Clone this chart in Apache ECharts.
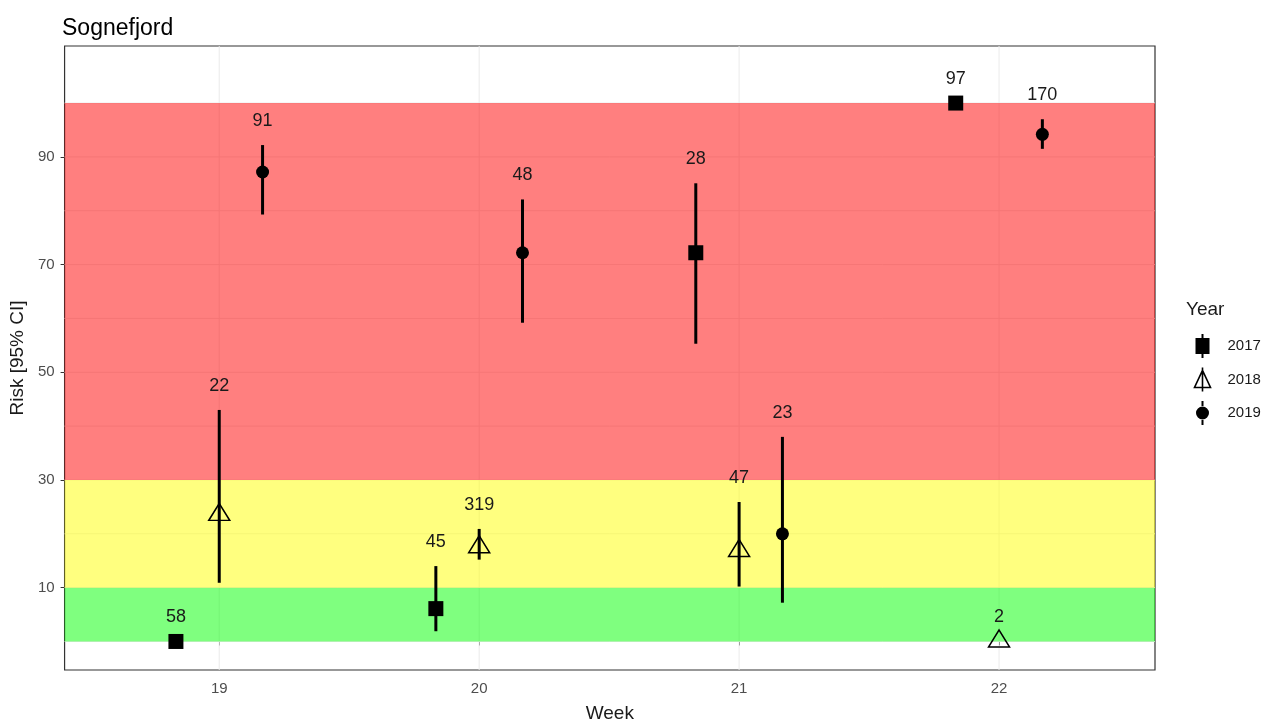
<!DOCTYPE html>
<html>
<head>
<meta charset="utf-8">
<script src="https://cdn.jsdelivr.net/npm/echarts@6/dist/echarts.min.js"></script>
<style>
html,body{margin:0;padding:0;background:#fff;}
#chart{width:1266px;height:728px;}
</style>
</head>
<body>
<div id="chart"></div>
<script>
// ---- data ----
const weeks = [19, 20, 21, 22];
const years = ['2017', '2018', '2019'];
const risk2017 = [0, 6.1, 72.2, 100];
const lo2017 = [0, 1.9, 55.3, 100];
const hi2017 = [0, 14.0, 85.1, 100];
const n2017 = [58, 45, 28, 97];
const risk2018 = [23.5, 17.5, 16.8, 0];
const lo2018 = [10.9, 15.2, 10.2, 0];
const hi2018 = [43.0, 20.9, 25.9, 0];
const n2018 = [22, 319, 47, 2];
const risk2019 = [87.2, 72.2, 20.0, 94.2];
const lo2019 = [79.3, 59.2, 7.2, 91.5];
const hi2019 = [92.2, 82.1, 38.0, 97.0];
const n2019 = [91, 48, 23, 170];
const bandLow = [0, 10, 30];
const bandHigh = [10, 30, 100];
const yTicks = [10, 30, 50, 70, 90];
const yGrid = [0, 10, 20, 30, 40, 50, 60, 70, 80, 90, 100];

// ---- styling ----
const FONT = '"Liberation Sans", Arial, sans-serif';
const dodge = 1 / 6;
const bandColors = ['rgba(0,255,0,0.5)', 'rgba(255,255,0,0.5)', 'rgba(255,0,0,0.5)'];
const yearData = [
  {risk: risk2017, lo: lo2017, hi: hi2017, n: n2017, off: -dodge},
  {risk: risk2018, lo: lo2018, hi: hi2018, n: n2018, off: 0},
  {risk: risk2019, lo: lo2019, hi: hi2019, n: n2019, off: dodge}
];
const symbols = [
  {symbol: 'rect', symbolSize: 15, itemStyle: {color: '#000', opacity: 1}},
  {symbol: 'triangle', symbolSize: [21, 17], symbolOffset: [0, -3],
   itemStyle: {color: 'none', borderColor: '#000', borderWidth: 1.5, opacity: 1}},
  {symbol: 'circle', symbolSize: 13, itemStyle: {color: '#000', opacity: 1}}
];
const legendIcons = [
  'path://M7,0L9,0L9,4L15,4L15,20L9,20L9,24L7,24L7,20L1,20L1,4L7,4Z',
  'path://M8,0L8,24M0,20L16,20L8,3Z',
  'path://M7,0L9,0L9,5L7,5Z M7,19L9,19L9,24L7,24Z M1.5,12A6.5,6.5 0 1 1 14.5,12A6.5,6.5 0 1 1 1.5,12Z'
];

const series = [];
// grid lines
series.push({
  type: 'custom', silent: true, z: 1,
  data: yGrid.map(v => [weeks[0], v]),
  renderItem: function (params, api) {
    const cs = params.coordSys;
    const y = api.coord([weeks[0], api.value(1)])[1];
    return {type: 'line', shape: {x1: cs.x, y1: y, x2: cs.x + cs.width, y2: y},
      style: {stroke: '#EBEBEB', lineWidth: 1}};
  }
});
series.push({
  type: 'custom', silent: true, z: 1,
  data: weeks.map(w => [w, 50]),
  renderItem: function (params, api) {
    const cs = params.coordSys;
    const x = api.coord([api.value(0), 50])[0];
    return {type: 'line', shape: {x1: x, y1: cs.y, x2: x, y2: cs.y + cs.height},
      style: {stroke: '#EBEBEB', lineWidth: 1}};
  }
});
// risk bands
series.push({
  type: 'custom', silent: true, z: 2,
  data: bandLow.map((lo, i) => [lo, bandHigh[i], i]),
  renderItem: function (params, api) {
    const cs = params.coordSys;
    const y1 = api.coord([weeks[0], api.value(1)])[1];
    const y0 = api.coord([weeks[0], api.value(0)])[1];
    return {type: 'rect', shape: {x: cs.x, y: y1, width: cs.width, height: y0 - y1},
      style: {fill: bandColors[api.value(2)]}};
  }
});
// error bars + labels, and points
years.forEach((yr, k) => {
  const d = yearData[k];
  series.push({
    name: yr, type: 'custom', z: 3,
    data: weeks.map((w, i) => [w + d.off, d.lo[i], d.hi[i], d.n[i]]),
    encode: {x: 0, y: [1, 2]},
    renderItem: function (params, api) {
      const x = api.value(0);
      const p0 = api.coord([x, api.value(1)]);
      const p1 = api.coord([x, api.value(2)]);
      const children = [];
      if (Math.abs(p0[1] - p1[1]) > 0.5) {
        children.push({type: 'line', shape: {x1: p0[0], y1: p0[1], x2: p1[0], y2: p1[1]},
          style: {stroke: '#000', lineWidth: 3}});
      }
      children.push({type: 'text', x: p1[0], y: p1[1] - 24,
        style: {text: String(api.value(3)), align: 'center', verticalAlign: 'middle',
          fill: '#1a1a1a', font: '18px ' + FONT}});
      return {type: 'group', children: children};
    }
  });
  series.push(Object.assign({
    name: yr, type: 'scatter', z: 4,
    data: weeks.map((w, i) => [w + d.off, d.risk[i]])
  }, symbols[k]));
});

const chart = echarts.init(document.getElementById('chart'), null, {renderer: 'canvas'});
chart.setOption({
  animation: false,
  backgroundColor: '#fff',
  textStyle: {fontFamily: FONT},
  title: {text: 'Sognefjord', left: 57, top: 12,
    textStyle: {fontSize: 23, fontWeight: 'normal', color: '#000', fontFamily: FONT}},
  grid: {left: 62, right: 111, top: 46, bottom: 53, show: true,
    borderColor: '#333', borderWidth: 1.2, backgroundColor: 'transparent', containLabel: false},
  xAxis: {
    type: 'value', min: 18.405, max: 22.6,
    name: 'Week', nameLocation: 'middle', nameGap: 34,
    nameTextStyle: {fontSize: 19, color: '#1a1a1a', fontFamily: FONT},
    axisLine: {show: false},
    axisTick: {show: true, customValues: weeks, length: 4, lineStyle: {color: '#333'}},
    axisLabel: {customValues: weeks, margin: 11, fontSize: 15, color: '#4D4D4D', fontFamily: FONT},
    splitLine: {show: false}
  },
  yAxis: {
    type: 'value', min: -5.3, max: 110.6,
    name: 'Risk [95% CI]', nameLocation: 'middle', nameGap: 34, nameRotate: 90,
    nameTextStyle: {fontSize: 19, color: '#1a1a1a', fontFamily: FONT},
    axisLine: {show: false},
    axisTick: {show: true, customValues: yTicks, length: 4, lineStyle: {color: '#333'}},
    axisLabel: {customValues: yTicks, margin: 10, fontSize: 15, color: '#4D4D4D', fontFamily: FONT},
    splitLine: {show: false}
  },
  legend: {
    orient: 'vertical', left: 1187, top: 329, itemGap: 7,
    itemWidth: 16, itemHeight: 24,
    textStyle: {fontSize: 15, color: '#1a1a1a', fontFamily: FONT, padding: [0, 0, 0, 12]},
    data: years.map((yr, k) => ({
      name: yr, icon: legendIcons[k],
      itemStyle: k === 1 ? {color: 'none', borderColor: '#000', borderWidth: 1.6}
                         : {color: '#000', borderWidth: 0}
    }))
  },
  graphic: [{type: 'text', left: 1186, top: 300,
    style: {text: 'Year', font: '19px ' + FONT, fill: '#1a1a1a'}}],
  series: series
});
</script>
</body>
</html>
